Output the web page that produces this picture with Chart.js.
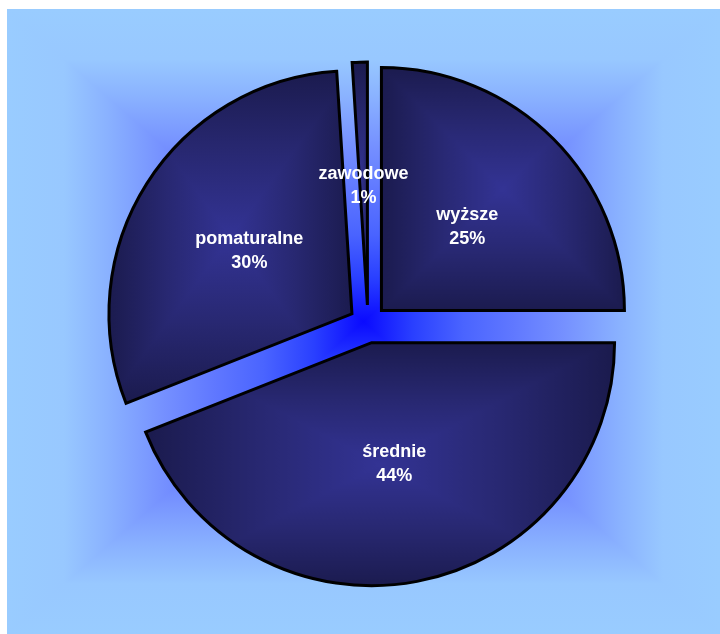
<!DOCTYPE html>
<html lang="pl">
<head>
<meta charset="utf-8">
<title>Wykształcenie</title>
<script src="https://cdn.jsdelivr.net/npm/chart.js@4.4.1/dist/chart.umd.min.js"></script>
<style>
  html, body { margin: 0; padding: 0; background: #ffffff; }
  canvas { display: block; }
</style>
</head>
<body>
<canvas id="wykres" width="720" height="634"></canvas>
<script>
// ===============================
// DANE
// ===============================
const kategorie = ["wyższe", "średnie", "pomaturalne", "zawodowe"];
const udzialy = [25, 44, 30, 1];

// ===============================
// KOLORY (gradient od środka, prostokątny)
// ===============================
const tloGradient = [
  [0.00, "#0a0aff"],
  [0.14, "#2a40ff"],
  [0.28, "#4a64ff"],
  [0.42, "#6078ff"],
  [0.56, "#7590ff"],
  [0.72, "#8ab2ff"],
  [0.84, "#98c8ff"],
  [1.00, "#99ccff"]
];
const wycinekGradient = [
  [0.00, "#333394"],
  [0.50, "#282872"],
  [1.00, "#1a1a4c"]
];

const ODSUNIECIE = 19;   // wysunięcie wycinków od środka

// prostokątny gradient "od środka": pionowy na całości + poziomy w trójkątach bocznych
function rectGradient(ctx, x0, y0, x1, y1, stops) {
  const cx = (x0 + x1) / 2, cy = (y0 + y1) / 2;
  const v = ctx.createLinearGradient(0, y0, 0, y1);
  const h = ctx.createLinearGradient(x0, 0, x1, 0);
  for (const [t, c] of stops) {
    v.addColorStop(0.5 - t / 2, c); v.addColorStop(0.5 + t / 2, c);
    h.addColorStop(0.5 - t / 2, c); h.addColorStop(0.5 + t / 2, c);
  }
  ctx.fillStyle = v;
  ctx.fillRect(x0, y0, x1 - x0, y1 - y0);
  ctx.fillStyle = h;
  ctx.beginPath();
  ctx.moveTo(x0, y0); ctx.lineTo(cx, cy); ctx.lineTo(x0, y1); ctx.closePath();
  ctx.moveTo(x1, y0); ctx.lineTo(cx, cy); ctx.lineTo(x1, y1); ctx.closePath();
  ctx.fill();
}

// obszar zajmowany przez wycinek (do gradientu wypełnienia)
function granice(arc) {
  const pts = [[arc.x, arc.y]];
  const r = arc.outerRadius;
  const kat = [arc.startAngle, arc.endAngle];
  for (let k = -1; k <= 3; k++) {
    const a = k * Math.PI / 2;
    if (a > arc.startAngle && a < arc.endAngle) kat.push(a);
  }
  kat.forEach(a => pts.push([arc.x + Math.cos(a) * r, arc.y + Math.sin(a) * r]));
  const xs = pts.map(p => p[0]), ys = pts.map(p => p[1]);
  return [Math.min(...xs), Math.min(...ys), Math.max(...xs), Math.max(...ys)];
}

const tlo = {
  id: "tlo",
  beforeDraw(chart) {
    const ctx = chart.ctx;
    ctx.save();
    ctx.fillStyle = "#ffffff";
    ctx.fillRect(0, 0, chart.width, chart.height);
    rectGradient(ctx, 7, 9, chart.width, chart.height, tloGradient);
    ctx.restore();
  }
};

// wysunięcie wycinków i ich wypełnienie
const wysuniecie = {
  id: "wysuniecie",
  afterDatasetUpdate(chart, args) {
    args.meta.data.forEach(arc => {
      const mid = (arc.startAngle + arc.endAngle) / 2;
      arc.x += Math.cos(mid) * ODSUNIECIE;
      arc.y += Math.sin(mid) * ODSUNIECIE;

      const [bx0, by0, bx1, by1] = granice(arc);
      const off = document.createElement("canvas");
      const w = Math.ceil(bx1 - bx0) + 8, h = Math.ceil(by1 - by0) + 8;
      off.width = w; off.height = h;
      rectGradient(off.getContext("2d"), 0, 0, w, h, wycinekGradient);
      const pat = chart.ctx.createPattern(off, "no-repeat");
      pat.setTransform(new DOMMatrix().translateSelf(bx0 - 4, by0 - 4));
      arc.options = Object.assign({}, arc.options, { backgroundColor: pat });
    });
  }
};

const etykiety = {
  id: "etykiety",
  afterDatasetsDraw(chart) {
    const ctx = chart.ctx;
    const meta = chart.getDatasetMeta(0);
    ctx.save();
    ctx.fillStyle = "#ffffff";
    ctx.font = 'bold 18px "Liberation Sans", Arial, sans-serif';
    ctx.textAlign = "center";
    ctx.textBaseline = "middle";
    meta.data.forEach((arc, i) => {
      const p = arc.getCenterPoint();
      ctx.fillText(kategorie[i], p.x, p.y - 10);
      ctx.fillText(udzialy[i] + "%", p.x, p.y + 14);
    });
    ctx.restore();
  }
};

function createChart() {
  const ctx = document.getElementById("wykres");
  new Chart(ctx, {
    type: "pie",
    data: {
      labels: kategorie,
      datasets: [{
        data: udzialy,
        radius: 243,
        backgroundColor: "#282872",
        borderColor: "#000000",
        borderWidth: 3,
        borderJoinStyle: "miter",
        clip: false
      }]
    },
    options: {
      responsive: false,
      animation: false,
      events: [],
      layout: { padding: { left: 16, top: 14, right: 0, bottom: 0 } },
      plugins: {
        legend: { display: false },
        tooltip: { enabled: false }
      }
    },
    plugins: [tlo, wysuniecie, etykiety]
  });
}

document.addEventListener("DOMContentLoaded", createChart);
</script>
</body>
</html>
